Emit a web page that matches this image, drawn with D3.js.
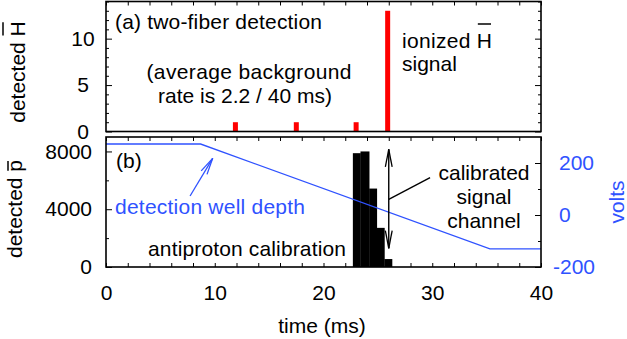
<!DOCTYPE html>
<html>
<head>
<meta charset="utf-8">
<script src="https://cdn.jsdelivr.net/npm/d3@7"></script>
<style>
body { margin: 0; background: #fff; }
text { font-family: "Liberation Sans", Arial, sans-serif; font-size: 21px; }
</style>
</head>
<body>
<div id="chart"></div>
<script>
// (a) two-fiber detection, counts per bin
var hbarTimes = [11.9, 17.5, 23.0, 25.9];
var hbarCounts = [1, 1, 1, 13];
var hbarWidth = 0.46;

// (b) antiproton calibration histogram
var pbarEdges = [22.7, 23.4, 24.2, 24.9, 25.6, 26.3];
var pbarCounts = [7880, 8000, 5430, 2710, 550];

// detection well depth (volts)
var wellTimes = [0, 8.7, 35.3, 40];
var wellVolts = [273, 273, -130, -130];

var timeTicks = [0, 10, 20, 30, 40];
var hTicks = [0, 5, 10];
var pTicks = [0, 4000, 8000];
var voltTicks = [-200, 0, 200];

var blue = "#2f52ff", red = "#ff0000";

var svg = d3.select("#chart").append("svg")
    .attr("width", 627)
    .attr("height", 339);

var x = d3.scaleLinear().domain([0, 40]).range([106, 541]);
var yH = d3.scaleLinear().domain([0, 14]).range([131.5, 1.5]);
var yP = d3.scaleLinear().domain([0, 9000]).range([267, 137]);
var yV = d3.scaleLinear().domain([-200, 300]).range([267, 137]);

function tickOnly(g, axis) {
    g.call(axis);
    g.select(".domain").remove();
    g.selectAll("line").attr("stroke", "#000").attr("stroke-width", 1);
    return g;
}

/* ------- TICKS -------*/
var minorT = d3.range(0, 41, 2);

tickOnly(svg.append("g").attr("transform", "translate(0," + yH.range()[1] + ")"),
    d3.axisTop(x).tickValues(minorT).tickSize(-4).tickFormat(""));
tickOnly(svg.append("g").attr("transform", "translate(0," + yP.range()[1] + ")"),
    d3.axisTop(x).tickValues(minorT).tickSize(-4).tickFormat(""));
tickOnly(svg.append("g").attr("transform", "translate(0," + yP.range()[0] + ")"),
    d3.axisBottom(x).tickValues(minorT).tickSize(-4).tickFormat(""));

// bottom labels
var xLab = svg.append("g").attr("transform", "translate(0," + yP.range()[0] + ")");
tickOnly(xLab, d3.axisBottom(x).tickValues(timeTicks).tickSize(0).tickPadding(18));
xLab.selectAll("text").attr("fill", "#000").style("font-size", "21px").style("font-family", null);

// top panel y ticks
var minorH = d3.range(0, 15, 1).filter(function (d) { return hTicks.indexOf(d) < 0; });
tickOnly(svg.append("g").attr("transform", "translate(106,0)"),
    d3.axisLeft(yH).tickValues(minorH).tickSize(-3).tickFormat(""));
tickOnly(svg.append("g").attr("transform", "translate(541,0)"),
    d3.axisRight(yH).tickValues(minorH).tickSize(-3).tickFormat(""));
tickOnly(svg.append("g").attr("transform", "translate(541,0)"),
    d3.axisRight(yH).tickValues(hTicks).tickSize(-6).tickFormat(""));
var hAx = tickOnly(svg.append("g").attr("transform", "translate(106,0)"),
    d3.axisLeft(yH).tickValues(hTicks).tickSize(-6));
hAx.selectAll("text").attr("fill", "#000").attr("x", -23).attr("text-anchor", "middle")
    .style("font-size", "21px").style("font-family", null);

// bottom panel left ticks
tickOnly(svg.append("g").attr("transform", "translate(106,0)"),
    d3.axisLeft(yP).tickValues([2000, 6000]).tickSize(-3).tickFormat(""));
var pAx = tickOnly(svg.append("g").attr("transform", "translate(106,0)"),
    d3.axisLeft(yP).tickValues(pTicks).tickSize(-6).tickPadding(14).tickFormat(d3.format("d")));
pAx.selectAll("text").attr("fill", "#000").style("font-size", "21px").style("font-family", null);

// volts right ticks
tickOnly(svg.append("g").attr("transform", "translate(541,0)"),
    d3.axisRight(yV).tickValues([-100, 100]).tickSize(-3).tickFormat(""));
var vAx = tickOnly(svg.append("g").attr("transform", "translate(541,0)"),
    d3.axisRight(yV).tickValues(voltTicks).tickSize(-6).tickPadding(18)
        .tickFormat(function (d) { return d < 0 ? "-" + (-d) : d; }));
vAx.selectAll("text").attr("fill", blue).style("font-size", "21px").style("font-family", null)
    .attr("dx", function (d) { return d < 0 ? -6 : 0; });

/* ------- MARKS -------*/
svg.append("g").selectAll("rect")
    .data(hbarTimes)
    .enter().append("rect")
    .attr("x", function (d) { return x(d - hbarWidth / 2); })
    .attr("width", function (d) { return x(d + hbarWidth / 2) - x(d - hbarWidth / 2); })
    .attr("y", function (d, i) { return yH(hbarCounts[i]); })
    .attr("height", function (d, i) { return yH(0) - yH(hbarCounts[i]); })
    .attr("fill", red);

svg.append("g").selectAll("rect")
    .data(pbarCounts)
    .enter().append("rect")
    .attr("x", function (d, i) { return x(pbarEdges[i]); })
    .attr("width", function (d, i) { return x(pbarEdges[i + 1]) - x(pbarEdges[i]) + 0.3; })
    .attr("y", function (d) { return yP(d); })
    .attr("height", function (d) { return yP(0) - yP(d); })
    .attr("fill", "#000");

var well = d3.line()
    .x(function (d) { return x(d); })
    .y(function (d, i) { return yV(wellVolts[i]); });
svg.append("path")
    .attr("d", well(wellTimes))
    .attr("fill", "none")
    .attr("stroke", blue)
    .attr("stroke-width", 1.3);

/* ------- FRAMES -------*/
[yH, yP].forEach(function (s) {
    svg.append("rect")
        .attr("x", 106).attr("y", s.range()[1])
        .attr("width", 435).attr("height", s.range()[0] - s.range()[1])
        .attr("fill", "none").attr("stroke", "#000").attr("stroke-width", 1.6);
});

/* ------- ARROWS -------*/
function arrowHead(px, py, fx, fy, len, ang, color) {
    var a = Math.atan2(fy - py, fx - px);
    [-ang, ang].forEach(function (s) {
        svg.append("line")
            .attr("x1", px).attr("y1", py)
            .attr("x2", px + len * Math.cos(a + s)).attr("y2", py + len * Math.sin(a + s))
            .attr("stroke", color).attr("stroke-width", 1.3);
    });
}
// detection well arrow (data units: time, volts)
var bx1 = x(7.73), by1 = yV(73), bx2 = x(9.81), by2 = yV(218);
svg.append("line").attr("x1", bx1).attr("y1", by1).attr("x2", bx2).attr("y2", by2)
    .attr("stroke", blue).attr("stroke-width", 1.3);
arrowHead(bx2, by2, bx1, by1, 17, 0.2, blue);

// calibrated signal channel double arrow (time, counts)
var ax0 = x(26), ay1 = yP(8150), ay2 = yP(1295);
svg.append("line").attr("x1", ax0).attr("y1", ay1).attr("x2", ax0).attr("y2", ay2)
    .attr("stroke", "#000").attr("stroke-width", 1.4);
arrowHead(ax0, ay1, ax0, ay2, 18, 0.19, "#000");
arrowHead(ax0, ay2, ax0, ay1, 18, 0.19, "#000");
svg.append("line").attr("x1", ax0).attr("y1", yP(4690)).attr("x2", x(29.8)).attr("y2", yP(6180))
    .attr("stroke", "#000").attr("stroke-width", 1.4);

/* ------- TEXT -------*/
function label(px, py, str, anchor, color, len) {
    var t = svg.append("text").attr("x", px).attr("y", py)
        .attr("text-anchor", anchor || "start")
        .attr("fill", color || "#000")
        .text(str);
    if (len) t.attr("textLength", len).attr("lengthAdjust", "spacing");
    return t;
}
function overbar(t, idx, rise, color) {
    var node = t.node();
    var a = node.getStartPositionOfChar(idx), b = node.getEndPositionOfChar(idx);
    d3.select(node.parentNode).append("line")
        .attr("x1", a.x + 1).attr("x2", b.x - 1)
        .attr("y1", a.y - rise).attr("y2", a.y - rise)
        .attr("stroke", color || "#000").attr("stroke-width", 1.5);
}

label(115, 29, "(a) two-fiber detection", "start", null, 207);
label(249, 79, "(average background", "middle", null, 205);
label(245, 103, "rate is 2.2 / 40 ms)", "middle");
var ion = label(402, 48, "ionized H", "start", null, 90);
overbar(ion, 8, 24);
label(402, 71, "signal");

label(116, 168, "(b)");
label(115, 214, "detection well depth", "start", blue, 190);
label(148, 256, "antiproton calibration", "start", null, 198);
label(484, 180, "calibrated", "middle");
label(484, 204, "signal", "middle");
label(484, 228, "channel", "middle");

label(322, 333, "time (ms)", "middle");

var gH = svg.append("g").attr("transform", "translate(25,72) rotate(-90)");
var tH = gH.append("text").attr("text-anchor", "middle").text("detected H");
overbar(tH, 9, 22);

var gP = svg.append("g").attr("transform", "translate(22,209) rotate(-90)");
var tP = gP.append("text").attr("text-anchor", "middle").text("detected p");
overbar(tP, 9, 14);

svg.append("g").attr("transform", "translate(624,202) rotate(-90)")
    .append("text").attr("text-anchor", "middle").attr("fill", blue).text("volts");
</script>
</body>
</html>
